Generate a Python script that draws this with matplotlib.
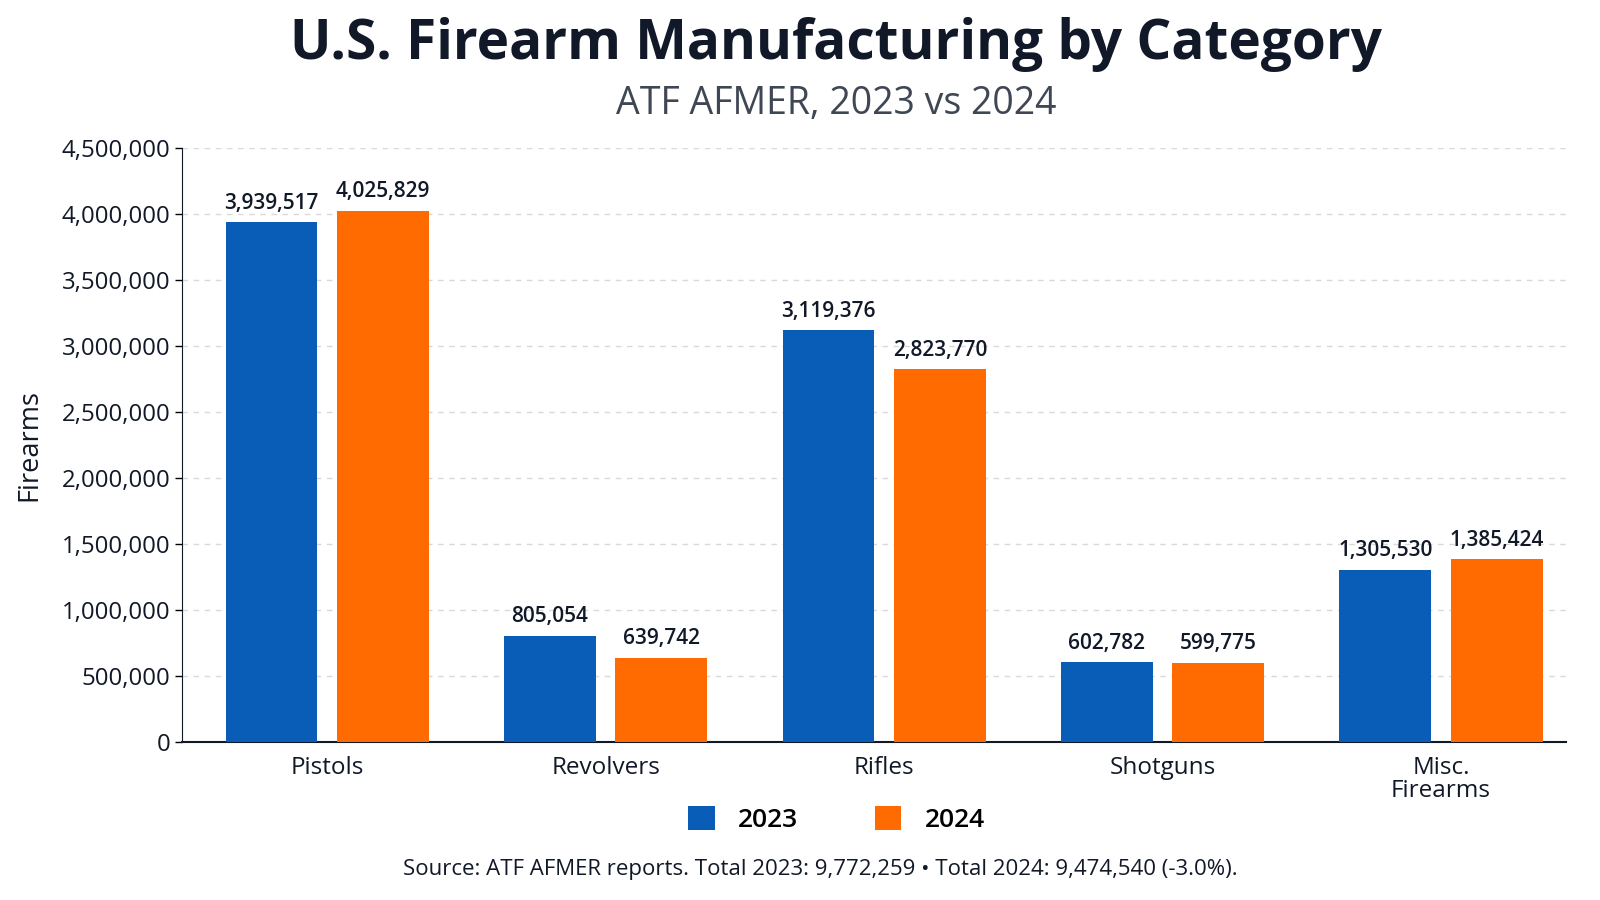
"""Grouped bar chart: U.S. firearm manufacturing by category, 2023 vs 2024."""

import matplotlib

matplotlib.use("Agg")
import matplotlib.pyplot as plt  # noqa: E402
import numpy as np  # noqa: E402
from matplotlib.ticker import FuncFormatter  # noqa: E402

categories = ["Pistols", "Revolvers", "Rifles", "Shotguns", "Misc.\nFirearms"]
values_2023 = [3939517, 805054, 3119376, 602782, 1305530]
values_2024 = [4025829, 639742, 2823770, 599775, 1385424]
series_labels = ["2023", "2024"]

BLUE = "#0A5DB7"
ORANGE = "#FF6B00"
DARK = "#111827"

plt.rcParams["font.family"] = ["Open Sans", "DejaVu Sans"]

fig = plt.figure(figsize=(16, 9), dpi=100)
ax = fig.add_axes([0.114, 0.1756, 0.865, 0.66])

x = np.arange(len(categories))
w = 0.33
off = 0.2
b1 = ax.bar(x - off, values_2023, w, color=BLUE, label=series_labels[0], zorder=3)
b2 = ax.bar(x + off, values_2024, w, color=ORANGE, label=series_labels[1], zorder=3)

for bars in (b1, b2):
    for rect in bars:
        h = rect.get_height()
        ax.annotate(f"{h:,.0f}", (rect.get_x() + rect.get_width() / 2, h),
                    xytext=(0, 6), textcoords="offset points",
                    ha="center", va="bottom", fontsize=15, fontweight="semibold", color=DARK)

ax.set_xlim(-0.52, 4.45)
ax.set_ylim(0, 4500000)
ax.set_yticks(np.arange(0, 4500001, 500000))
ax.yaxis.set_major_formatter(FuncFormatter(lambda v, _: f"{v:,.0f}"))
ax.set_xticks(x)
ax.set_xticklabels(categories, fontsize=17.5, color=DARK, linespacing=0.95)
ax.tick_params(axis="y", labelsize=17.3, labelcolor=DARK, length=5, width=1)
ax.tick_params(axis="x", length=0, pad=10)
ax.grid(axis="y", linestyle=(0, (4, 4)), color="#d9d9d9", linewidth=1, zorder=0)
for side in ("top", "right"):
    ax.spines[side].set_visible(False)
ax.spines["left"].set_color(DARK)
ax.spines["bottom"].set_color(DARK)
ax.spines["bottom"].set_linewidth(1.5)
ax.set_ylabel("Firearms", fontsize=19.5, color=DARK, labelpad=13)

fig.text(0.5225, 0.95, "U.S. Firearm Manufacturing by Category", ha="center", va="center",
         fontsize=39.5, fontweight="bold", color=DARK)
fig.text(0.5225, 0.884, "ATF AFMER, 2023 vs 2024", ha="center", va="center",
         fontsize=27, color="#3f4654")

fig.legend(loc="center", bbox_to_anchor=(0.523, 0.089), ncol=2, frameon=False,
           prop={"size": 19, "weight": "semibold"}, handlelength=1.0, handleheight=1.0,
           columnspacing=2.9, handletextpad=0.9)

fig.text(0.513, 0.034, "Source: ATF AFMER reports. Total 2023: 9,772,259 \u2022 Total 2024: 9,474,540 (-3.0%).",
         ha="center", va="center", fontsize=16, color=DARK)

fig.savefig("out.png", dpi=100)
plt.close(fig)
